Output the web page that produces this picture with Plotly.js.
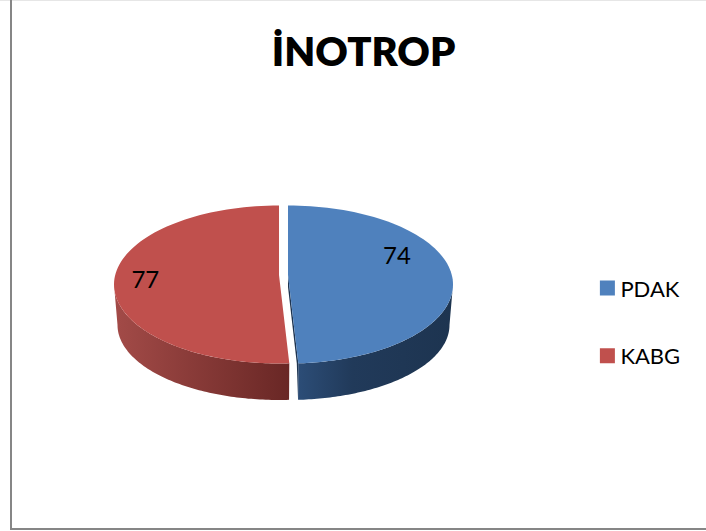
<!DOCTYPE html>
<html>
<head>
<meta charset="utf-8">
<script src="https://cdn.plot.ly/plotly-3.0.1.min.js"></script>
<style>html,body{margin:0;padding:0;background:#fff}#chart{width:706px;height:531px}</style>
</head>
<body>
<div id="chart"></div>
<script>
// Inotrope use by group
const categories = ['PDAK', 'KABG'];
const values = [74, 77];
const topColors = ['#4f81bd', '#c0504d'];
const wallStops = [
  [[0, '#2c4d77'], [0.35, '#213a5a'], [1, '#1d3450']],
  [[0, '#a34b48'], [1, '#692725']]
];
const cutColor = '#1e3450';
const chartTitle = 'İNOTROP';

// Tilted-disc projection, in the page-sized axis units set below
const disc = {cx: 283.5, explode: 4.5, rx: 165, ry: 79, cy: 284.5, apexY: 275,
              lowRx: 161.5, lowRy: 75, lowCy: 325};
const total = values.reduce((a, b) => a + b, 0);
const fullTurn = 2 * Math.PI;

function arc(cx, cy, rx, ry, from, to) {
  const xs = [], ys = [], steps = 90;
  for (let i = 0; i <= steps; i++) {
    const t = from + (to - from) * i / steps;
    xs.push(cx + rx * Math.sin(t));
    ys.push(cy - ry * Math.cos(t));
  }
  return {xs, ys};
}

// Slice angles run clockwise from twelve o'clock
let running = 0;
const slices = values.map((v) => {
  const from = running / total * fullTurn;
  running += v;
  const to = running / total * fullTurn;
  const dir = Math.sin((from + to) / 2) >= 0 ? 1 : -1;
  return {from, to, cx: disc.cx + dir * disc.explode};
});

const traces = [];

// Outer walls: only the part of the rim that faces the viewer
slices.forEach((s, i) => {
  const a = Math.max(s.from, Math.PI / 2), b = Math.min(s.to, 1.5 * Math.PI);
  const up = arc(s.cx, disc.cy, disc.rx, disc.ry, a, b);
  const low = arc(s.cx, disc.lowCy, disc.lowRx, disc.lowRy, a, b);
  traces.push({
    type: 'scatter', mode: 'none', hoverinfo: 'skip', showlegend: false,
    x: up.xs.concat(low.xs.slice().reverse()),
    y: up.ys.concat(low.ys.slice().reverse()),
    fill: 'toself',
    fillgradient: {type: 'horizontal', colorscale: wallStops[i]}
  });
});

// Cut face of the first slice, seen through the gap
{
  const s = slices[0];
  const end = arc(s.cx, disc.cy, disc.rx, disc.ry, s.to, s.to);
  const lowEnd = arc(s.cx, disc.lowCy, disc.lowRx, disc.lowRy, s.to, s.to);
  traces.push({
    type: 'scatter', mode: 'none', hoverinfo: 'skip', showlegend: false,
    x: [s.cx, end.xs[0], lowEnd.xs[0], end.xs[0] - 1.5, s.cx],
    y: [disc.apexY, end.ys[0], lowEnd.ys[0], end.ys[0], disc.apexY + 12],
    fill: 'toself', fillcolor: cutColor
  });
}

// Top faces
slices.forEach((s, i) => {
  const rim = arc(s.cx, disc.cy, disc.rx, disc.ry, s.from, s.to);
  traces.push({
    type: 'scatter', mode: 'none', hoverinfo: 'skip', showlegend: false,
    x: [s.cx].concat(rim.xs, [s.cx]),
    y: [disc.apexY].concat(rim.ys, [disc.apexY]),
    fill: 'toself', fillcolor: topColors[i]
  });
});

// Value labels, held at a fixed spot on each face
const labelSpots = [[0.66, 0.33], [-0.81, 0.035]];
traces.push({
  type: 'scatter', mode: 'text', hoverinfo: 'skip', showlegend: false,
  x: slices.map((s, i) => s.cx + labelSpots[i][0] * disc.rx),
  y: slices.map((s, i) => disc.cy - labelSpots[i][1] * disc.ry),
  text: values.map(String),
  textposition: 'middle center',
  textfont: {family: 'Lato, sans-serif', size: 24, color: '#000'}
});

// Legend keys
categories.forEach((name, i) => {
  traces.push({
    type: 'scatter', mode: 'markers', name, legendgroup: name, hoverinfo: 'skip',
    x: [null], y: [null],
    marker: {symbol: 'square', size: 15, color: topColors[i]}
  });
});

const layout = {
  width: 706, height: 531,
  margin: {l: 0, r: 0, t: 0, b: 0},
  paper_bgcolor: '#fff', plot_bgcolor: '#fff',
  title: {text: chartTitle, font: {family: 'Lato, sans-serif', size: 40, color: '#000', weight: 800},
          x: 0.515, xanchor: 'center', y: 0.903, yanchor: 'middle'},
  xaxis: {range: [0, 706], visible: false, fixedrange: true},
  yaxis: {range: [531, 0], visible: false, fixedrange: true},
  legend: {x: 0.832, xanchor: 'left', y: 0.393, yanchor: 'middle', tracegroupgap: 36,
           itemwidth: 30, font: {family: 'Lato, sans-serif', size: 22, color: '#000'},
           bgcolor: 'rgba(0,0,0,0)'},
  shapes: [
    {type: 'line', x0: 0, x1: 706, y0: 0, y1: 0, line: {color: '#e6e6e6', width: 2}},
    {type: 'line', x0: 11, x1: 11, y0: 0, y1: 529, line: {color: '#868686', width: 2}},
    {type: 'line', x0: 10, x1: 706, y0: 529, y1: 529, line: {color: '#868686', width: 2}}
  ]
};

Plotly.newPlot('chart', traces, layout, {displayModeBar: false, staticPlot: true}).then((gd) => {
  // Tighten the gap between each legend key and its text
  gd.querySelectorAll('.legendtext').forEach((t) => {
    t.setAttribute('x', parseFloat(t.getAttribute('x')) - 7);
  });
});
</script>
</body>
</html>
